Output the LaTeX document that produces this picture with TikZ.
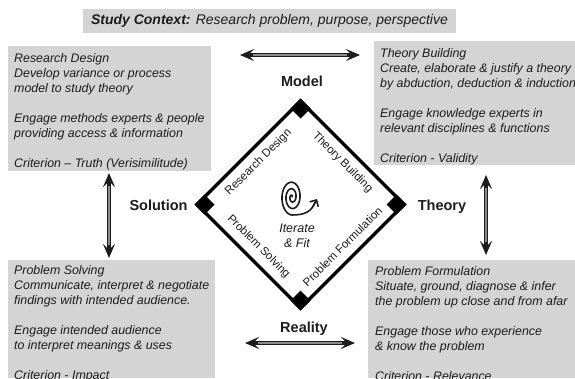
\documentclass[tikz,border=0pt]{standalone}
\usepackage{fontspec}
\setmainfont{Liberation Sans}
\usetikzlibrary{arrows.meta}
\definecolor{boxgray}{RGB}{212,212,212}
\definecolor{inkc}{RGB}{28,28,28}
\definecolor{shaftgray}{RGB}{140,140,140}
\begin{document}
\begin{tikzpicture}[x=1pt,y=-1pt,
  panel/.style={fill=boxgray, draw=none, inner sep=0pt, anchor=north west},
  boxtext/.style={anchor=north west, inner sep=0pt, align=left, text=inkc,
    font=\fontsize{12.4}{15}\selectfont\itshape},
  axislabel/.style={font=\fontsize{14.5}{16}\selectfont\bfseries, text=inkc,
    inner sep=0pt, text height=10.4pt, text depth=0pt},
  edgelabel/.style={font=\fontsize{11.5}{13}\selectfont, text=inkc, inner sep=0pt},
  tipx/.tip={Stealth[length=14pt,width=12pt,inset=6pt]},
  dblarrow/.style={line width=4pt, draw=inkc, tipx-tipx},
  shaftin/.style={line width=1.6pt, draw=shaftgray, shorten <=13pt, shorten >=13pt}
]
\useasboundingbox[fill=white] (0,0) rectangle (575,378);

% study context
\node[fill=boxgray, inner sep=0pt, minimum width=373pt, minimum height=24pt,
  font=\fontsize{14}{16}\selectfont\itshape, text=inkc] (ctx) at (269.5,21)
  {{\bfseries Study Context:} Research problem, purpose, perspective};

% panels
\node[panel, minimum width=203pt, minimum height=125pt] (rdbox) at (8,46) {};
\node[panel, minimum width=201pt, minimum height=124pt] (tbbox) at (374,41) {};
\node[panel, minimum width=207pt, minimum height=118pt] (psbox) at (8,260) {};
\node[panel, minimum width=207pt, minimum height=118pt] (pfbox) at (368,260) {};

\node[boxtext] (rdtext) at (14,53.4) {Research Design\\Develop variance or process\\model to study theory\\[15pt]Engage methods experts \& people\\providing access \& information\\[15pt]Criterion -- Truth (Verisimilitude)};
\node[boxtext] (tbtext) at (380,48.4) {Theory Building\\Create, elaborate \& justify a theory\\by abduction, deduction \& induction\\[15pt]Engage knowledge experts in\\relevant disciplines \& functions\\[15pt]Criterion - Validity};
\node[boxtext] (pstext) at (14,265.4) {Problem Solving\\Communicate, interpret \& negotiate\\findings with intended audience.\\[15pt]Engage intended audience\\to interpret meanings \& uses\\[15pt]Criterion - Impact};
\node[boxtext] (pftext) at (375,266.4) {Problem Formulation\\Situate, ground, diagnose \& infer\\the problem up close and from afar\\[15pt]Engage those who experience\\\& know the problem\\[15pt]Criterion - Relevance};

% diamond
\coordinate (dT) at (300.5,101);
\coordinate (dR) at (404,204.5);
\coordinate (dB) at (300.5,308);
\coordinate (dL) at (197,204.5);
\draw[line width=3.5pt, draw=black, line join=miter] (dT) -- (dR) -- (dB) -- (dL) -- cycle;
\fill[black] (300.5,98.5) -- (310.5,108.5) -- (300.5,118.5) -- (290.5,108.5) -- cycle;
\fill[black] (300.5,310.5) -- (310.5,300.5) -- (300.5,290.5) -- (290.5,300.5) -- cycle;
\fill[black] (194.5,204.5) -- (204.5,194.5) -- (214.5,204.5) -- (204.5,214.5) -- cycle;
\fill[black] (406.5,204.5) -- (396.5,194.5) -- (386.5,204.5) -- (396.5,214.5) -- cycle;

\node[edgelabel, rotate=45] (lrd) at (258.5,162.5) {Research Design};
\node[edgelabel, rotate=-45] (ltb) at (342.5,162.5) {Theory Building};
\node[edgelabel, rotate=-45] (lps) at (258.5,246.5) {Problem Solving};
\node[edgelabel, rotate=45] (lpf) at (342.5,246.5) {Problem Formulation};

% spiral
\draw[line width=1.6pt, draw=inkc, line cap=round] plot[domain=0.3:17.28, samples=300, variable=\t]
  ({292+11*\t/17.28*cos(\t r)}, {197-18*\t/17.28*sin(\t r)})
  .. controls (306,215) and (311,211) .. (315,203);
\coordinate (spTail) at (313,206);
\coordinate (spTip) at (317,199);
\draw[line width=1.6pt, draw=inkc, -{Straight Barb[length=5pt,width=10pt]}] (spTail) -- (spTip);
\node[align=center, inner sep=0pt, text=inkc, font=\fontsize{12.5}{15}\selectfont\itshape] (fit) at (297,236) {Iterate\\\& Fit};

% axis labels
\node[axislabel] (model) at (302,81) {Model};
\node[axislabel] (solution) at (158.5,205) {Solution};
\node[axislabel] (theory) at (442,205) {Theory};
\node[axislabel] (reality) at (304,327) {Reality};

% arrows
\coordinate (mA) at (240,55);  \coordinate (mB) at (360,55);
\coordinate (rA) at (245,343); \coordinate (rB) at (355,343);
\coordinate (sA) at (109,173); \coordinate (sB) at (109,258);
\coordinate (tA) at (486,175); \coordinate (tB) at (486,255);
\draw[dblarrow] (mA) -- (mB); \draw[shaftin] (mA) -- (mB);
\draw[dblarrow] (rA) -- (rB); \draw[shaftin] (rA) -- (rB);
\draw[dblarrow] (sA) -- (sB); \draw[shaftin] (sA) -- (sB);
\draw[dblarrow] (tA) -- (tB); \draw[shaftin] (tA) -- (tB);
\end{tikzpicture}
\end{document}
